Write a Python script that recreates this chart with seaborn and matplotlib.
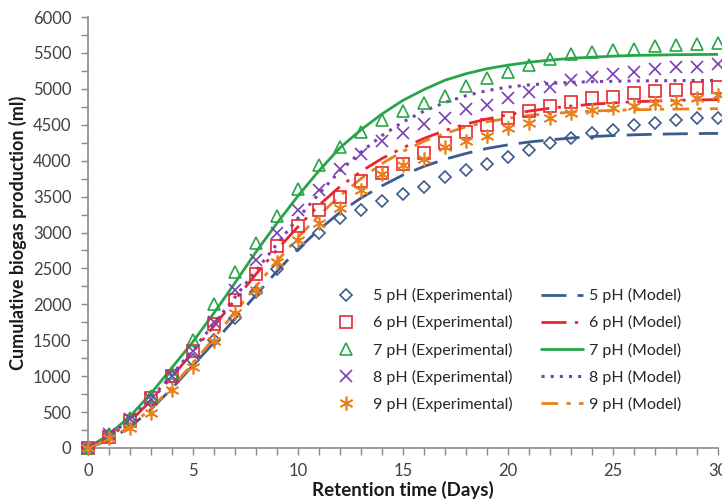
import matplotlib
matplotlib.use("Agg")
import matplotlib.pyplot as plt
from matplotlib.ticker import MultipleLocator
import seaborn as sns
import pandas as pd

days = list(range(31))

# experimental points (ml)
exp_ph5 = [0, 180, 380, 650, 990, 1230, 1500, 1810, 2170, 2490, 2820, 3000, 3200, 3320, 3440, 3530, 3630,
           3770, 3870, 3960, 4050, 4150, 4240, 4310, 4380, 4420, 4500, 4530, 4570, 4590, 4600]
exp_ph6 = [0, 150, 380, 700, 1000, 1350, 1720, 2060, 2420, 2810, 3090, 3320, 3500, 3710, 3830, 3960, 4100,
           4240, 4400, 4490, 4600, 4690, 4760, 4820, 4870, 4880, 4940, 4970, 4990, 5010, 5020]
exp_ph7 = [0, 200, 420, 720, 1050, 1510, 2010, 2450, 2850, 3230, 3600, 3940, 4190, 4400, 4560, 4690, 4800,
           4900, 5040, 5150, 5230, 5330, 5410, 5480, 5510, 5540, 5560, 5590, 5610, 5620, 5640]
exp_ph8 = [0, 200, 400, 680, 1000, 1350, 1760, 2200, 2620, 3000, 3320, 3590, 3880, 4090, 4270, 4380, 4510,
           4590, 4720, 4770, 4870, 4960, 5030, 5120, 5160, 5210, 5240, 5280, 5300, 5310, 5340]
exp_ph9 = [0, 140, 280, 490, 810, 1130, 1490, 1880, 2200, 2590, 2900, 3130, 3340, 3590, 3820, 3940, 4030,
           4190, 4270, 4350, 4450, 4530, 4600, 4660, 4700, 4730, 4760, 4800, 4810, 4870, 4910]

# model curves (ml)
mod_ph5 = [0, 110, 290, 540, 830, 1150, 1470, 1800, 2130, 2460, 2770, 3040, 3280, 3480, 3650, 3800, 3920,
           4020, 4100, 4170, 4220, 4260, 4290, 4315, 4335, 4350, 4360, 4368, 4373, 4377, 4380]
mod_ph6 = [0, 150, 370, 660, 990, 1340, 1700, 2060, 2420, 2760, 3080, 3380, 3640, 3850, 4030, 4180, 4310,
           4420, 4510, 4580, 4640, 4690, 4730, 4760, 4785, 4805, 4820, 4830, 4840, 4845, 4850]
mod_ph7 = [0, 190, 440, 760, 1120, 1480, 1880, 2300, 2730, 3130, 3510, 3860, 4180, 4430, 4650, 4840, 4990,
           5120, 5210, 5280, 5330, 5370, 5400, 5425, 5440, 5455, 5465, 5470, 5475, 5478, 5480]
mod_ph8 = [0, 170, 400, 690, 1020, 1370, 1730, 2100, 2470, 2840, 3200, 3540, 3860, 4120, 4350, 4540, 4690,
           4810, 4905, 4975, 5025, 5055, 5075, 5090, 5100, 5105, 5110, 5112, 5114, 5116, 5118]
mod_ph9 = [0, 120, 300, 550, 850, 1180, 1530, 1890, 2250, 2600, 2930, 3240, 3510, 3750, 3960, 4130, 4270,
           4380, 4470, 4540, 4590, 4630, 4655, 4675, 4690, 4700, 4708, 4714, 4718, 4721, 4723]

labels = ["5 pH", "6 pH", "7 pH", "8 pH", "9 pH"]
colors = ["#3b5b8c", "#e8262f", "#27a548", "#7a3fb0", "#e8801e"]
markers = ["D", "s", "^", "x", (6, 2, 0)]
marker_sizes = [6, 9, 9, 9, 10]
line_styles = [(0, (9, 4)), (0, (9, 3, 1.2, 3, 1.2, 3)), "-", (0, (1, 2)), (0, (6, 3, 1.5, 3))]
line_widths = [2.0, 2.0, 2.0, 2.2, 2.0]

exp_data = [exp_ph5, exp_ph6, exp_ph7, exp_ph8, exp_ph9]
mod_data = [mod_ph5, mod_ph6, mod_ph7, mod_ph8, mod_ph9]

sns.set_style("ticks")
plt.rcParams["font.family"] = ["Lato", "DejaVu Sans"]

fig = plt.figure(figsize=(7.22, 5.03), dpi=100)
ax = fig.add_axes([88 / 722, 55 / 503, 630 / 722, 431 / 503])

for lab, col, mk, ms, ys in zip(labels, colors, markers, marker_sizes, exp_data):
    df = pd.DataFrame({"day": days, "gas": ys})
    filled = mk in ("D", "s", "^")
    sns.lineplot(data=df, x="day", y="gas", ax=ax, linestyle="", marker=mk,
                 markersize=ms, markerfacecolor="none" if filled else col,
                 markeredgecolor=col, markeredgewidth=1.2, color=col,
                 label=f"{lab} (Experimental)", clip_on=False, zorder=3)

for lab, col, ls, lw, ys in zip(labels, colors, line_styles, line_widths, mod_data):
    df = pd.DataFrame({"day": days, "gas": ys})
    sns.lineplot(data=df, x="day", y="gas", ax=ax, color=col, linestyle=ls,
                 linewidth=lw, label=f"{lab} (Model)", zorder=2)

ax.set_xlim(0, 30)
ax.set_ylim(0, 6000)
ax.xaxis.set_major_locator(MultipleLocator(5))
ax.xaxis.set_minor_locator(MultipleLocator(1))
ax.yaxis.set_major_locator(MultipleLocator(500))
ax.yaxis.set_minor_locator(MultipleLocator(250))
ax.tick_params(which="both", direction="out", length=5, width=1, color="#8a8a8a",
               labelsize=12, labelcolor="#404040")
ax.tick_params(axis="y", pad=7)
ax.tick_params(axis="x", pad=6)
for side in ["left", "bottom"]:
    ax.spines[side].set_color("#8a8a8a")
    ax.spines[side].set_linewidth(1.2)
sns.despine(ax=ax)

ax.set_xlabel("Retention time (Days)", fontsize=13.5, fontweight="bold", color="#1a1a1a", labelpad=1)
ax.set_ylabel("Cumulative biogas production (ml)", fontsize=13, fontweight="bold", color="#1a1a1a", labelpad=4)

ax.legend(ncol=2, loc="center", bbox_to_anchor=(503 / 722, 1 - 350 / 503),
          bbox_transform=fig.transFigure, frameon=False, fontsize=11.5,
          handlelength=2.6, handletextpad=0.4, columnspacing=1.8, labelspacing=0.75)

fig.savefig("out.png", dpi=100)
